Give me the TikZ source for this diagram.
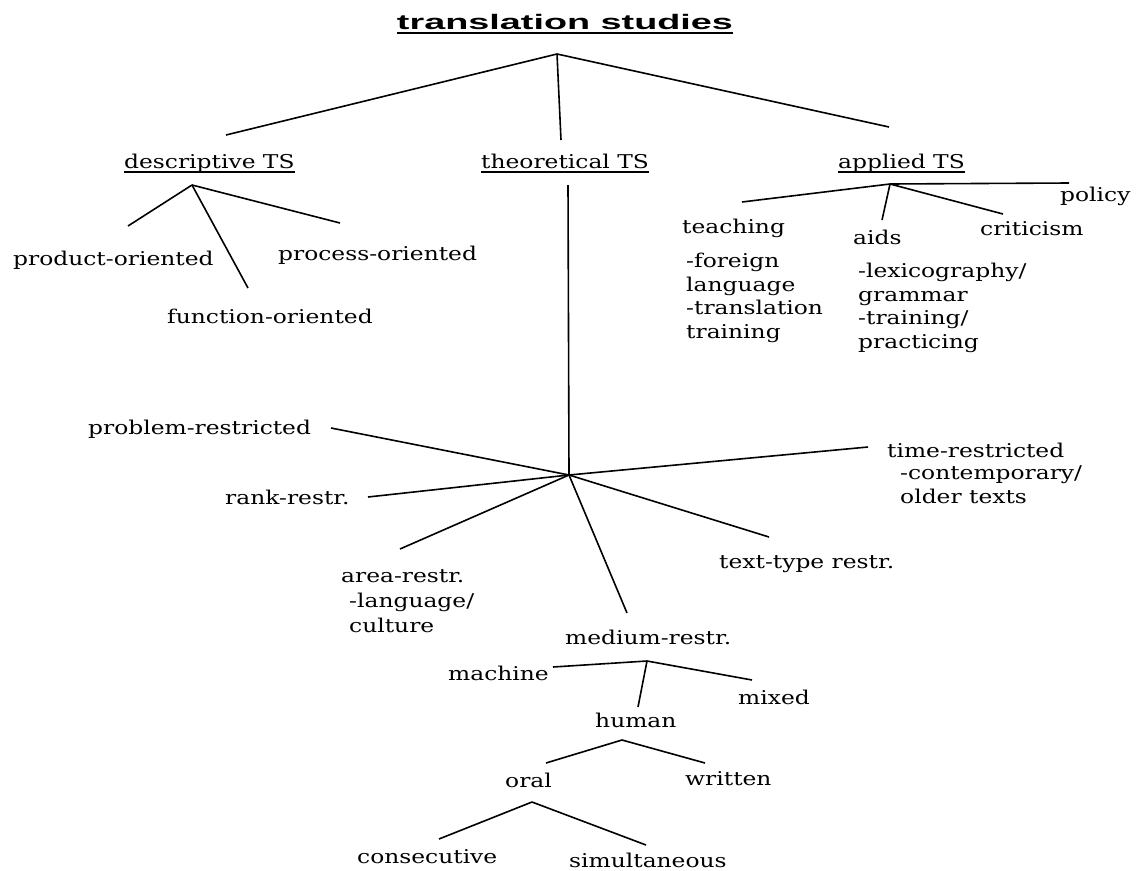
\documentclass[tikz,border=0pt]{standalone}
\usepackage{fontspec}
\setmainfont[FakeStretch=1.23]{DejaVu Serif}
\newfontfamily\titlefont[FakeStretch=1.8]{Liberation Sans}
\begin{document}
\begin{tikzpicture}[x=1pt,y=-1pt,
  lbl/.style={anchor=base west, inner sep=0pt, font=\fontsize{19}{23.5}\selectfont, align=left},
  ln/.style={line width=1.6pt, black},
  ul/.style={line width=1.4pt, black}]
\useasboundingbox[fill=white] (0,0) rectangle (1142,870);

% title
\node[anchor=base, inner sep=0pt, font=\titlefont\bfseries\fontsize{21}{24}\selectfont] (title) at (565,29) {translation studies};
\draw[ul] ([yshift=-4pt]title.base west) -- ([yshift=-4pt]title.base east);

% level 1
\node[lbl] (desc) at (124,168) {descriptive TS};
\node[lbl] (theo) at (481,168) {theoretical TS};
\node[lbl] (appl) at (838,168) {applied TS};
\foreach \n in {desc,theo,appl}
  \draw[ul] ([yshift=-4pt]\n.base west) -- ([yshift=-4pt]\n.base east);

\coordinate (r) at (557,54);
\coordinate (r1) at (226,135);
\coordinate (r2) at (561,140);
\coordinate (r3) at (889,127);
\draw[ln] (r) -- (r1);
\draw[ln] (r) -- (r2);
\draw[ln] (r) -- (r3);

% descriptive
\node[lbl] (prod) at (13,265) {product-oriented};
\node[lbl] (proc) at (278,260) {process-oriented};
\node[lbl] (func) at (167,323) {function-oriented};
\coordinate (d0) at (192,185);
\coordinate (d1) at (128,226);
\coordinate (d2) at (248,288);
\coordinate (d3) at (340,223);
\draw[ln] (d0) -- (d1);
\draw[ln] (d0) -- (d2);
\draw[ln] (d0) -- (d3);

% applied (multi-line nodes: base = last line)
\node[lbl] (teach) at (682,233) {teaching};
\node[lbl] (teachsub) at (686,338) {-foreign\\language\\-translation\\training};
\node[lbl] (aids) at (853,244) {aids};
\node[lbl] (aidssub) at (858,348) {-lexicography/\\grammar\\-training/\\practicing};
\node[lbl] (crit) at (980,235) {criticism};
\node[lbl] (policy) at (1060,201) {policy};
\coordinate (a0) at (890,184);
\coordinate (a1) at (742,202);
\coordinate (a2) at (882,220);
\coordinate (a3) at (1003,214);
\coordinate (a4) at (1069,183);
\draw[ln] (a0) -- (a1);
\draw[ln] (a0) -- (a2);
\draw[ln] (a0) -- (a3);
\draw[ln] (a0) -- (a4);

% theoretical
\coordinate (t0) at (568,185);
\coordinate (c) at (569,475);
\draw[ln] (t0) -- (c);
\node[lbl] (prob) at (88,434) {problem-restricted};
\node[lbl] (rank) at (225,504) {rank-restr.};
\node[lbl] (area) at (341,582) {area-restr.};
\node[lbl, font=\fontsize{19}{25}\selectfont] (areasub) at (349,632) {-language/\\culture};
\node[lbl] (time) at (887,457) {time-restricted};
\node[lbl] (timesub) at (900,503) {-contemporary/\\older texts};
\node[lbl] (ttype) at (719,568) {text-type restr.};
\node[lbl] (medium) at (565,644) {medium-restr.};
\coordinate (c1) at (331,428);
\coordinate (c2) at (368,497);
\coordinate (c3) at (400,549);
\coordinate (c4) at (627,613);
\coordinate (c5) at (769,537);
\coordinate (c6) at (868,447);
\foreach \e in {c1,c2,c3,c4,c5,c6}
  \draw[ln] (c) -- (\e);

% medium
\node[lbl] (machine) at (448,680) {machine};
\node[lbl] (mixed) at (738,704) {mixed};
\node[lbl] (human) at (595,727) {human};
\coordinate (m0) at (647,661);
\coordinate (m1) at (553,667);
\coordinate (m2) at (638,707);
\coordinate (m3) at (752,680);
\draw[ln] (m0) -- (m1);
\draw[ln] (m0) -- (m2);
\draw[ln] (m0) -- (m3);

% human
\node[lbl] (oral) at (505,787) {oral};
\node[lbl] (written) at (685,785) {written};
\coordinate (h0) at (622,740);
\coordinate (h1) at (546,763);
\coordinate (h2) at (705,763);
\draw[ln] (h0) -- (h1);
\draw[ln] (h0) -- (h2);

% oral
\node[lbl] (cons) at (357,863) {consecutive};
\node[lbl] (simul) at (569,867) {simultaneous};
\coordinate (o0) at (532,802);
\coordinate (o1) at (439,839);
\coordinate (o2) at (646,845);
\draw[ln] (o0) -- (o1);
\draw[ln] (o0) -- (o2);
\end{tikzpicture}
\end{document}
